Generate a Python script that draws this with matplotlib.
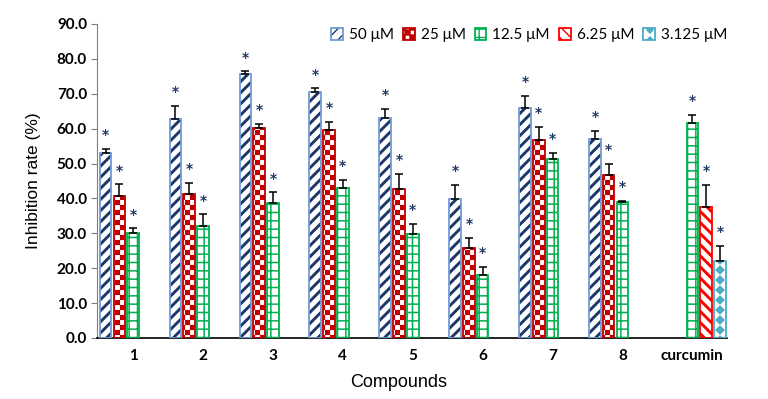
import warnings
import numpy as np
import matplotlib
matplotlib.use('Agg')
import matplotlib.pyplot as plt
from matplotlib import hatch as mhatch
from matplotlib.path import Path

warnings.filterwarnings('ignore', message='.*hatch must consist.*')

compounds = ['1', '2', '3', '4', '5', '6', '7', '8', 'curcumin']
nan = np.nan
inh_50 = [53.0, 62.8, 75.6, 70.6, 62.9, 39.9, 66.0, 57.0, nan]
err_50 = [1.1, 3.6, 0.8, 0.9, 2.8, 4.0, 3.3, 2.4, nan]
inh_25 = [40.7, 41.3, 60.2, 59.6, 42.6, 25.9, 56.8, 46.6, nan]
err_25 = [3.3, 3.0, 1.1, 2.4, 4.3, 2.8, 3.7, 3.3, nan]
inh_12_5 = [30.0, 32.1, 38.6, 42.9, 29.9, 17.9, 51.2, 38.9, 61.5]
err_12_5 = [1.4, 3.3, 3.1, 2.4, 2.7, 2.4, 1.7, 0.3, 2.3]
inh_6_25 = [nan] * 8 + [37.6]
err_6_25 = [nan] * 8 + [6.2]
inh_3_125 = [nan] * 8 + [22.1]
err_3_125 = [nan] * 8 + [4.3]
labels = ['50 \u03bcM', '25 \u03bcM', '12.5 \u03bcM', '6.25 \u03bcM', '3.125 \u03bcM']


# extra fill patterns: 'c' = checker board, 'd' = diamonds
class Checker(mhatch.HatchPatternBase):
    def __init__(self, hatch, density):
        self.n = int(round(10 / 3 * density * hatch.count('c')))
        self.num_vertices = (self.n * self.n // 2) * 5

    def set_vertices_and_codes(self, vertices, codes):
        s = 1.0 / self.n
        k = 0
        for i in range(self.n):
            for j in range(self.n):
                if (i + j) % 2:
                    continue
                x, y = i * s, j * s
                vertices[k:k + 5] = [(x, y), (x + s, y), (x + s, y + s), (x, y + s), (x, y)]
                codes[k:k + 5] = [Path.MOVETO, Path.LINETO, Path.LINETO, Path.LINETO, Path.CLOSEPOLY]
                k += 5


class Diamonds(mhatch.HatchPatternBase):
    def __init__(self, hatch, density):
        self.n = int(round(10 * density / 6 * hatch.count('d')))
        self.num_vertices = self.n * self.n * 5

    def set_vertices_and_codes(self, vertices, codes):
        s = 1.0 / self.n
        h = s / 2
        k = 0
        for i in range(self.n):
            for j in range(self.n):
                cx, cy = (i + 0.5) * s, (j + 0.5) * s
                vertices[k:k + 5] = [(cx - h, cy), (cx, cy - h), (cx + h, cy), (cx, cy + h), (cx - h, cy)]
                codes[k:k + 5] = [Path.MOVETO, Path.LINETO, Path.LINETO, Path.LINETO, Path.CLOSEPOLY]
                k += 5


mhatch._hatch_types.extend([Checker, Diamonds])

series = [
    # values, errors, face, hatch colour, hatch, hatch lw, outline
    (inh_50, err_50, 'white', '#1f3768', '///', 2.1, '#6f9bd6'),
    (inh_25, err_25, 'white', '#c00000', 'c', 0.1, '#c00000'),
    (inh_12_5, err_12_5, 'white', '#00b050', '++', 1.1, '#00b050'),
    (inh_6_25, err_6_25, 'white', '#ff0000', '\\\\\\', 2.1, '#ff0000'),
    (inh_3_125, err_3_125, '#4bacc6', 'white', 'd', 0.1, '#4bacc6'),
]

fig = plt.figure(figsize=(7.68, 3.99), dpi=100)
ax = fig.add_axes([0.126, 0.153, 0.821, 0.787])

x = np.arange(1, len(compounds) + 1)
step = 0.197
width = 0.166
handles = []
for k, (vals, errs, face, hcol, hat, hlw, edge) in enumerate(series):
    vals = np.array(vals)
    errs = np.array(errs)
    xs = x + (k - 2) * step
    with plt.rc_context({'hatch.linewidth': hlw}):
        b = ax.bar(xs, vals, width, color=face, edgecolor=hcol, linewidth=0,
                   hatch=hat, zorder=2)
    o = ax.bar(xs, vals, width, fill=False, edgecolor=edge, linewidth=1.3, zorder=3)
    handles.append((b[-1], o[-1]))
    ok = ~np.isnan(vals)
    ax.errorbar(xs[ok], vals[ok], yerr=[np.zeros(ok.sum()), errs[ok]], fmt='none',
                ecolor='black', elinewidth=1.1, capsize=3.2, capthick=1.1, zorder=4)
    for xi, v, e in zip(xs[ok], vals[ok], errs[ok]):
        ax.annotate('*', (xi, v + e), xytext=(0, 10), textcoords='offset points',
                    ha='center', va='center', fontsize=10, fontweight='bold',
                    color='#1f3864')

ax.set_xlim(0.48, 9.5)
ax.set_ylim(0, 90)
ax.set_yticks(np.arange(0, 91, 10))
ax.set_yticklabels(['%.1f' % v for v in np.arange(0, 91, 10)])
ax.set_xticks(x)
ax.set_xticklabels(compounds)

for lab in ax.get_xticklabels() + ax.get_yticklabels():
    lab.set_fontfamily('Lato')
    lab.set_fontweight('bold')
    lab.set_fontsize(11)

ax.tick_params(axis='x', length=0, pad=8)
ax.tick_params(axis='y', length=4, color='#7f7f7f', pad=3)
ax.spines['top'].set_visible(False)
ax.spines['right'].set_visible(False)
ax.spines['left'].set_color('#7f7f7f')
ax.spines['bottom'].set_color('black')
ax.spines['bottom'].set_linewidth(1.2)

ax.set_ylabel('Inhibition rate (%)', fontsize=12.5, family='Liberation Sans', labelpad=11)
ax.set_xlabel('Compounds', fontsize=13, family='Liberation Sans')
ax.xaxis.set_label_coords(0.479, -0.115)

leg = ax.legend(handles=handles, labels=labels, ncol=5, loc='upper right',
                bbox_to_anchor=(0.955, 0.945), bbox_transform=fig.transFigure,
                frameon=False, handlelength=0.75, handleheight=0.8,
                handletextpad=0.4, columnspacing=0.6, borderaxespad=0,
                prop={'family': 'Lato', 'size': 11})

fig.savefig('out.png', dpi=100)
